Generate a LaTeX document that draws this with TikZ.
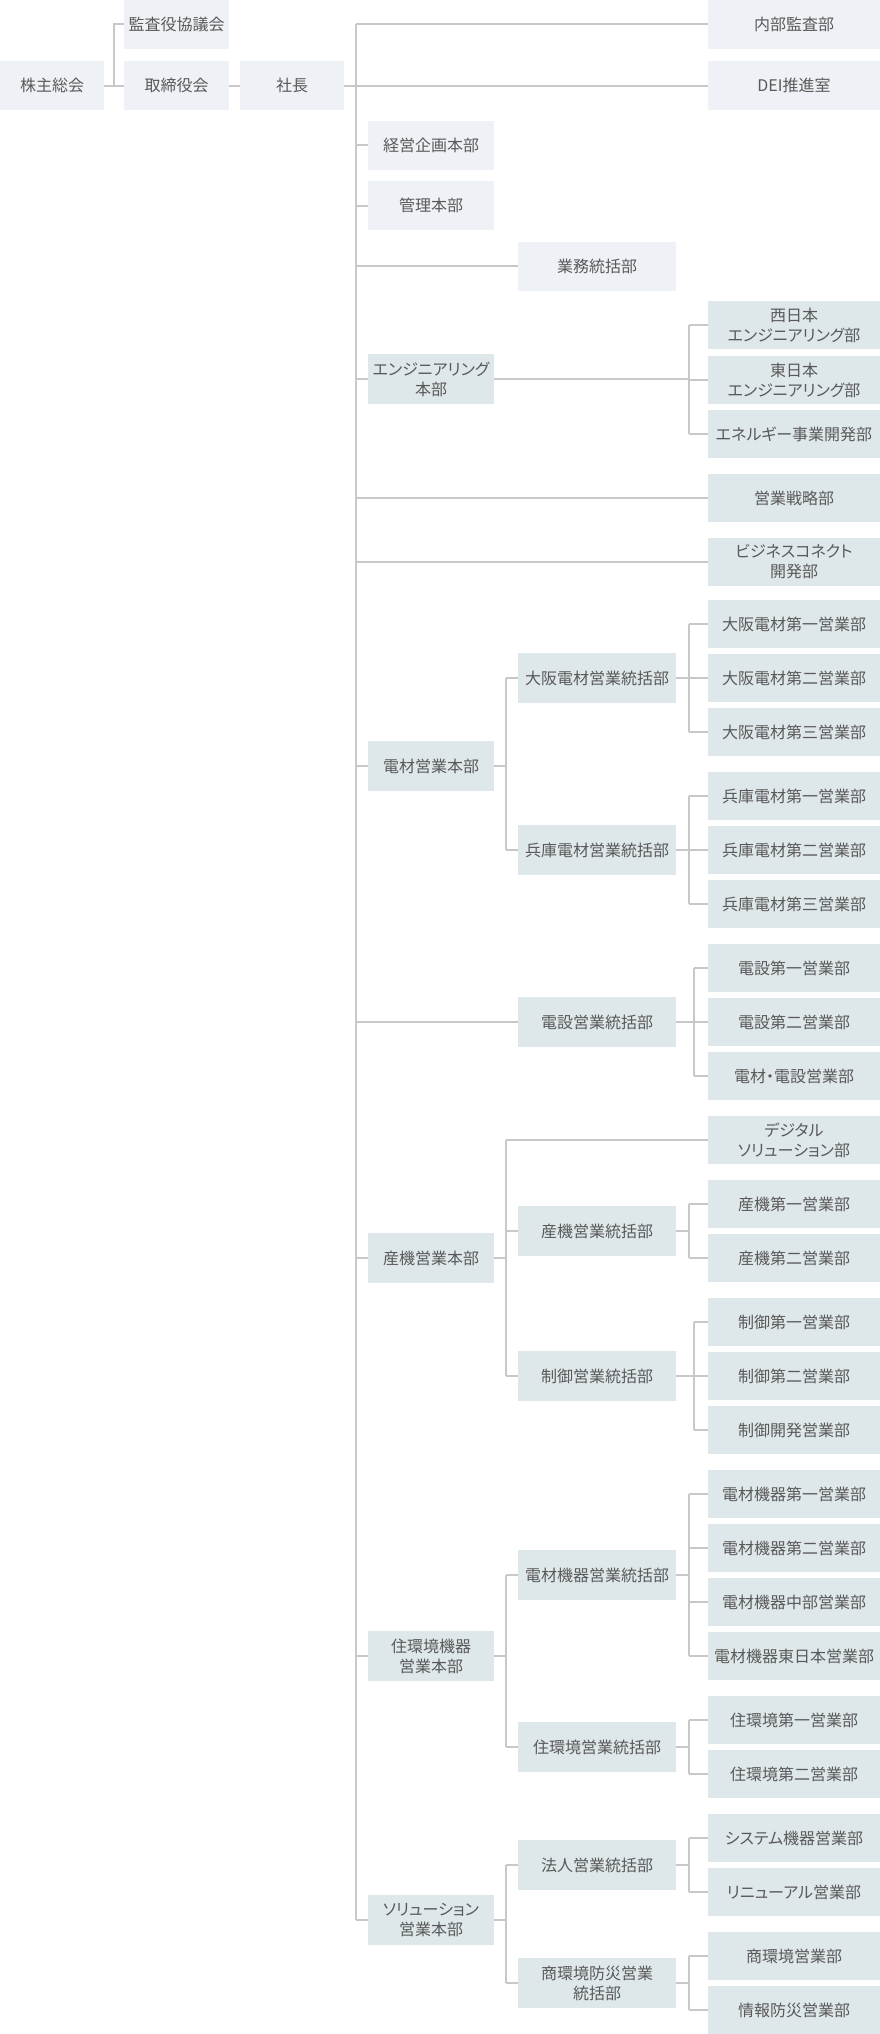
\documentclass[tikz,border=0pt]{standalone}
\usepackage{fontspec}
\setmainfont{Noto Sans CJK JP}[RawFeature={+palt}]
\usetikzlibrary{backgrounds}
\definecolor{boxA}{HTML}{EEF2F6}
\definecolor{boxB}{HTML}{DEE7EA}
\definecolor{lineC}{HTML}{C8C8C8}
\definecolor{txt}{HTML}{595959}
\tikzset{
  bx/.style={rectangle, inner sep=0pt, minimum height=48pt, text=txt,
    font=\fontsize{16}{20}\selectfont, align=center},
  la/.style={bx, fill=boxA},
  tb/.style={bx, fill=boxB},
  wA/.style={minimum width=104pt},
  wB/.style={minimum width=105pt},
  wD/.style={minimum width=126pt},
  wE/.style={minimum width=158pt},
  wF/.style={minimum width=172pt},
  ln/.style={draw=lineC, line width=2pt, line cap=square}
}
\begin{document}
\begin{tikzpicture}[x=1pt,y=-1pt]
\useasboundingbox (0,0) rectangle (880,2034);
% top
\node[la,wA,minimum height=49pt] (kabu) at (52,85.5) {株主総会};
\node[la,wB,minimum height=49pt] (kansa) at (176.5,24.5) {監査役協議会};
\node[la,wB,minimum height=49pt] (tori) at (176.5,85.5) {取締役会};
\node[la,wA,minimum height=49pt] (shacho) at (292,85.5) {社長};
\node[la,wF,minimum height=49pt] (naibu) at (794,24.5) {内部監査部};
\node[la,wF,minimum height=49pt] (dei) at (794,85.5) {DEI推進室};
\node[la,wD,minimum height=49pt] (keiei) at (431,145) {経営企画本部};
\node[la,wD,minimum height=49pt] (kanri) at (431,205.5) {管理本部};
\node[la,wE,minimum height=49pt] (gyomu) at (597,266) {業務統括部};
% engineering
\node[tb,wD,minimum height=50pt] (eng) at (431,379) {エンジニアリング\\本部};
\node[tb,wF] (nishi) at (794,325) {西日本\\エンジニアリング部};
\node[tb,wF] (higashi) at (794,380) {東日本\\エンジニアリング部};
\node[tb,wF] (energy) at (794,434) {エネルギー事業開発部};
\node[tb,wF] (eigyo) at (794,498) {営業戦略部};
\node[tb,wF] (biz) at (794,562) {ビジネスコネクト\\開発部};
% denzai
\node[tb,wD,minimum height=50pt] (denzai) at (431,766) {電材営業本部};
\node[tb,wE,minimum height=50pt] (osaka) at (597,678) {大阪電材営業統括部};
\node[tb,wF] (os1) at (794,624) {大阪電材第一営業部};
\node[tb,wF] (os2) at (794,678) {大阪電材第二営業部};
\node[tb,wF] (os3) at (794,732) {大阪電材第三営業部};
\node[tb,wE,minimum height=50pt] (hyogo) at (597,850) {兵庫電材営業統括部};
\node[tb,wF] (hy1) at (794,796) {兵庫電材第一営業部};
\node[tb,wF] (hy2) at (794,850) {兵庫電材第二営業部};
\node[tb,wF] (hy3) at (794,904) {兵庫電材第三営業部};
\node[tb,wE,minimum height=50pt] (densetsu) at (597,1022) {電設営業統括部};
\node[tb,wF] (ds1) at (794,968) {電設第一営業部};
\node[tb,wF] (ds2) at (794,1022) {電設第二営業部};
\node[tb,wF] (ds3) at (794,1076) {電材・電設営業部};
% sanki
\node[tb,wD,minimum height=50pt] (sanki) at (431,1258) {産機営業本部};
\node[tb,wF] (digital) at (794,1140) {デジタル\\ソリューション部};
\node[tb,wE,minimum height=50pt] (sankiT) at (597,1231) {産機営業統括部};
\node[tb,wF] (sk1) at (794,1204) {産機第一営業部};
\node[tb,wF] (sk2) at (794,1258) {産機第二営業部};
\node[tb,wE,minimum height=50pt] (seigyo) at (597,1376) {制御営業統括部};
\node[tb,wF] (sg1) at (794,1322) {制御第一営業部};
\node[tb,wF] (sg2) at (794,1376) {制御第二営業部};
\node[tb,wF] (sg3) at (794,1430) {制御開発営業部};
% jukan
\node[tb,wD,minimum height=50pt] (jukan) at (431,1656) {住環境機器\\営業本部};
\node[tb,wE,minimum height=50pt] (kiki) at (597,1575) {電材機器営業統括部};
\node[tb,wF] (kk1) at (794,1494) {電材機器第一営業部};
\node[tb,wF] (kk2) at (794,1548) {電材機器第二営業部};
\node[tb,wF] (kk3) at (794,1602) {電材機器中部営業部};
\node[tb,wF] (kk4) at (794,1656) {電材機器東日本営業部};
\node[tb,wE,minimum height=50pt] (jukanT) at (597,1747) {住環境営業統括部};
\node[tb,wF] (jk1) at (794,1720) {住環境第一営業部};
\node[tb,wF] (jk2) at (794,1774) {住環境第二営業部};
% solution
\node[tb,wD,minimum height=50pt] (sol) at (431,1920) {ソリューション\\営業本部};
\node[tb,wE,minimum height=50pt] (hojin) at (597,1865) {法人営業統括部};
\node[tb,wF] (hj1) at (794,1838) {システム機器営業部};
\node[tb,wF] (hj2) at (794,1892) {リニューアル営業部};
\node[tb,wE,minimum height=50pt] (shokan) at (597,1983) {商環境防災営業\\統括部};
\node[tb,wF] (sh1) at (794,1956) {商環境営業部};
\node[tb,wF] (sh2) at (794,2010) {情報防災営業部};

\coordinate (kb) at (114,85.5);
\coordinate (tTop) at (356,24.5);
\coordinate (tBot) at (356,1920);
\coordinate (sD) at (506,0);
\coordinate (sE) at (689,0);
\coordinate (sE2) at (694,0);

\begin{scope}[on background layer]
  \draw[ln] (kabu.east) -- (tori.west);
  \draw[ln] (kb) |- (kansa.west);
  \draw[ln] (tori.east) -- (shacho.west);
  \draw[ln] (shacho.east) -- (dei.west);
  \draw[ln] (tTop) -- (tBot);
  \draw[ln] (tTop) -- (naibu.west);
  \foreach \n in {keiei,kanri,gyomu,eng,eigyo,biz,denzai,densetsu,sanki,jukan,sol}
    \draw[ln] (tTop |- \n.west) -- (\n.west);
  % engineering
  \draw[ln] (eng.east) -- (sE |- eng.east);
  \draw[ln] (sE |- nishi.west) -- (sE |- energy.west);
  \foreach \c in {nishi,higashi,energy} \draw[ln] (sE |- \c.west) -- (\c.west);
  % denzai
  \draw[ln] (denzai.east) -- (sD |- denzai.east);
  \draw[ln] (sD |- osaka.west) -- (sD |- hyogo.west);
  \foreach \c in {osaka,hyogo} \draw[ln] (sD |- \c.west) -- (\c.west);
  \draw[ln] (osaka.east) -- (sE |- osaka.east);
  \draw[ln] (sE |- os1.west) -- (sE |- os3.west);
  \foreach \c in {os1,os2,os3} \draw[ln] (sE |- \c.west) -- (\c.west);
  \draw[ln] (hyogo.east) -- (sE |- hyogo.east);
  \draw[ln] (sE |- hy1.west) -- (sE |- hy3.west);
  \foreach \c in {hy1,hy2,hy3} \draw[ln] (sE |- \c.west) -- (\c.west);
  \draw[ln] (densetsu.east) -- (sE2 |- densetsu.east);
  \draw[ln] (sE2 |- ds1.west) -- (sE2 |- ds3.west);
  \foreach \c in {ds1,ds2,ds3} \draw[ln] (sE2 |- \c.west) -- (\c.west);
  % sanki
  \draw[ln] (sanki.east) -- (sD |- sanki.east);
  \draw[ln] (sD |- digital.west) -- (sD |- seigyo.west);
  \foreach \c in {digital,sankiT,seigyo} \draw[ln] (sD |- \c.west) -- (\c.west);
  \draw[ln] (sankiT.east) -- (sE |- sankiT.east);
  \draw[ln] (sE |- sk1.west) -- (sE |- sk2.west);
  \foreach \c in {sk1,sk2} \draw[ln] (sE |- \c.west) -- (\c.west);
  \draw[ln] (seigyo.east) -- (sE2 |- seigyo.east);
  \draw[ln] (sE2 |- sg1.west) -- (sE2 |- sg3.west);
  \foreach \c in {sg1,sg2,sg3} \draw[ln] (sE2 |- \c.west) -- (\c.west);
  % jukan
  \draw[ln] (jukan.east) -- (sD |- jukan.east);
  \draw[ln] (sD |- kiki.west) -- (sD |- jukanT.west);
  \foreach \c in {kiki,jukanT} \draw[ln] (sD |- \c.west) -- (\c.west);
  \draw[ln] (kiki.east) -- (sE |- kiki.east);
  \draw[ln] (sE |- kk1.west) -- (sE |- kk4.west);
  \foreach \c in {kk1,kk2,kk3,kk4} \draw[ln] (sE |- \c.west) -- (\c.west);
  \draw[ln] (jukanT.east) -- (sE |- jukanT.east);
  \draw[ln] (sE |- jk1.west) -- (sE |- jk2.west);
  \foreach \c in {jk1,jk2} \draw[ln] (sE |- \c.west) -- (\c.west);
  % solution
  \draw[ln] (sol.east) -- (sD |- sol.east);
  \draw[ln] (sD |- hojin.west) -- (sD |- shokan.west);
  \foreach \c in {hojin,shokan} \draw[ln] (sD |- \c.west) -- (\c.west);
  \draw[ln] (hojin.east) -- (sE |- hojin.east);
  \draw[ln] (sE |- hj1.west) -- (sE |- hj2.west);
  \foreach \c in {hj1,hj2} \draw[ln] (sE |- \c.west) -- (\c.west);
  \draw[ln] (shokan.east) -- (sE |- shokan.east);
  \draw[ln] (sE |- sh1.west) -- (sE |- sh2.west);
  \foreach \c in {sh1,sh2} \draw[ln] (sE |- \c.west) -- (\c.west);
\end{scope}
\end{tikzpicture}
\end{document}
